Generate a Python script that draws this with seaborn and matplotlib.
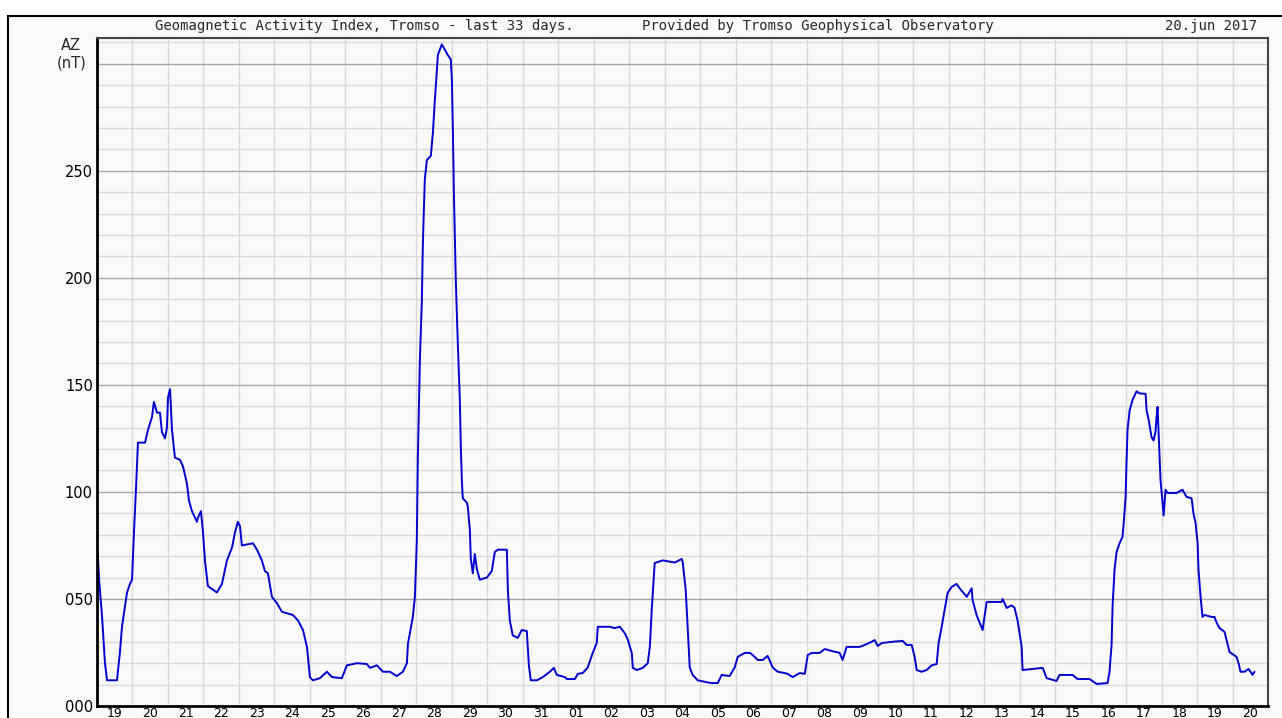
import numpy as np
import pandas as pd
import matplotlib
matplotlib.use('Agg')
import matplotlib.pyplot as plt
from matplotlib.patches import Rectangle
import seaborn as sns

# ---- data -------------------------------------------------------------
day_labels = ['19', '20', '21', '22', '23', '24', '25', '26', '27', '28', '29',
              '30', '31', '01', '02', '03', '04', '05', '06', '07', '08', '09',
              '10', '11', '12', '13', '14', '15', '16', '17', '18', '19', '20']

# hours since 19 May 00:00 UT
hours = [0.5, 1.4, 3.4, 5.4, 6.8, 13.5, 15.5, 16.9, 20.3, 22.3, 23.7, 25.0, 26.4,
         27.7, 32.5, 34.5, 37.2, 38.5, 40.6, 42.6, 43.9, 46.0, 47.3, 48.0, 49.4,
         50.7, 52.1, 52.7, 56.1, 58.1, 60.8, 62.2, 64.2, 67.6, 68.3, 70.3, 71.7,
         73.0, 75.0, 81.1, 84.5, 87.9, 91.3, 93.3, 95.3, 96.7, 98.0, 105.5, 108.2,
         111.5, 113.6, 115.6, 118.3, 121.7, 125.1, 132.5, 135.9, 139.3, 142.0,
         144.0, 146.0, 150.8, 155.5, 158.9, 165.6, 169.0, 175.8, 182.5, 184.6,
         189.3, 193.4, 198.1, 202.8, 206.9, 209.6, 210.3, 211.6, 213.6, 215.0,
         216.3, 217.0, 218.4, 219.7, 220.4, 221.7, 223.1, 225.8, 227.2, 228.5,
         229.9, 230.5, 233.2, 235.3, 237.3, 239.3, 240.0, 240.7, 241.4, 242.7,
         244.1, 245.4, 246.1, 246.8, 247.4, 250.1, 250.8, 252.2, 252.8, 254.2,
         255.5, 256.9, 258.9, 263.7, 267.0, 269.1, 271.1, 277.2, 277.9, 279.2,
         281.2, 284.6, 287.3, 290.7, 292.1, 293.4, 297.5, 301.5, 306.3, 309.0,
         311.0, 316.4, 317.8, 323.2, 325.2, 328.6, 331.9, 335.3, 338.0, 338.7,
         346.8, 350.2, 353.6, 357.0, 359.0, 361.7, 362.4, 365.1, 369.1, 372.5,
         373.9, 375.2, 376.6, 377.2, 382.7, 390.8, 395.5, 396.2, 398.2, 399.6,
         400.9, 402.9, 406.3, 413.1, 415.8, 419.8, 422.5, 427.9, 431.3, 433.4,
         438.1, 441.5, 443.5, 446.9, 450.3, 453.6, 457.0, 460.4, 465.1, 467.2,
         470.5, 475.3, 478.7, 480.7, 483.4, 488.8, 492.2, 496.9, 502.3, 504.3,
         507.0, 515.8, 519.2, 523.9, 526.0, 528.0, 530.7, 538.1, 544.9, 547.6,
         551.0, 553.0, 554.4, 557.7, 561.1, 564.5, 567.9, 569.2, 571.3, 573.3,
         575.3, 578.0, 581.4, 583.4, 586.1, 588.2, 591.6, 592.2, 594.9, 596.3,
         599.0, 601.7, 611.8, 612.5, 615.2, 618.6, 620.6, 622.6, 625.4, 626.0,
         639.6, 642.3, 649.0, 651.0, 659.8, 663.2, 671.3, 676.1, 683.5, 684.8,
         686.2, 686.9, 688.2, 689.6, 691.6, 693.6, 694.3, 695.7, 696.3, 697.0,
         698.4, 700.4, 703.1, 705.1, 709.2, 709.9, 711.2, 713.2, 714.6, 715.9,
         716.6, 717.3, 718.0, 719.3, 720.7, 721.4, 722.7, 724.1, 730.1, 734.2,
         736.9, 740.3, 741.6, 743.0, 744.4, 745.0, 746.4, 747.7, 749.1, 753.8,
         755.8, 757.2, 759.2, 762.6, 764.0, 766.0, 770.7, 772.1, 773.4, 776.1,
         778.8, 780.8, 781.5, 782.9]

az_nT = [71.5, 59, 42, 20, 12, 12, 25, 37, 53, 57, 59, 81, 102,
         123, 123, 129, 135, 142, 137, 137, 128, 125, 130, 144, 148,
         129, 120, 116, 115, 112, 104, 96, 91, 86, 88, 91, 81,
         68, 56, 53, 57, 68, 74, 81, 86, 84, 75, 76, 73,
         68, 63, 62, 51, 48, 44, 42.5, 40, 35.5, 27.6,
         13.5, 12, 13, 16, 13.5, 13, 19, 20, 19.6, 17.8,
         19, 16, 16, 14, 16, 20, 29, 34, 41.6, 51,
         77, 116, 162, 189, 216, 246, 255, 257, 268, 283,
         297, 304, 309, 306.5, 304, 302, 293, 269, 239, 198,
         168, 143, 120, 105, 97, 95, 93, 82, 69, 62,
         71, 64, 59, 60, 63, 72, 73, 73, 54, 40,
         33, 31.8, 35.5, 35, 19, 12, 12, 13.5, 16, 17.8,
         14.5, 13.5, 12.6, 12.6, 15, 15.4, 18, 24.8, 29.4, 37,
         37, 36.4, 37, 34, 31, 24.8, 17.8, 16.8, 17.8, 20,
         27.6, 45, 60, 66.8, 68, 67, 68.7, 66.8, 54, 35.5,
         18, 14.5, 12, 11, 10.7, 10.7, 14.5, 14, 18, 23,
         24.8, 24.8, 23.8, 21.5, 21.5, 23.4, 18, 16, 15.4, 15,
         13.5, 15.4, 15, 23.8, 24.8, 24.8, 26.6, 25.7, 24.8, 21.5,
         27.6, 27.6, 28.5, 30, 30.8, 28, 29.4, 30, 30.4, 28.5,
         28.5, 23, 16.8, 16, 16.8, 19, 19.6, 29.4, 37, 45,
         52.8, 55.6, 57, 55, 52.8, 51, 55, 49.5, 42.5, 40,
         35.5, 48.6, 48.6, 50, 45.8, 47, 45.8, 40, 27.6, 16.8,
         17.8, 13, 11.7, 14.5, 14.5, 12.6, 12.6, 10.3, 10.7, 16,
         28.5, 47, 63.5, 72, 76, 79, 84.6, 97.7, 113.5, 129,
         138, 143, 147, 146, 145.8, 138, 134, 125.7, 124, 128,
         134.6, 139.7, 128, 105.6, 95, 89, 101, 99.5, 99.5, 101,
         97.7, 97, 90, 85.5, 76, 63.5, 51, 41.6, 42.5, 41.6,
         41.6, 39, 36.4, 34.6, 30.8, 25.2, 23, 20, 16, 16,
         17.3, 15.4, 14.5, 16]

y_tick_values = [0, 50, 100, 150, 200, 250, 300]
y_tick_labels = ['000', '050', '100', '150', '200', '250', '']

title_left = 'Geomagnetic Activity Index, Tromso - last 33 days.'
title_mid = 'Provided by Tromso Geophysical Observatory'
title_right = '20.jun 2017'

# ---- figure -----------------------------------------------------------
sns.set_style('white')
plt.rcParams['font.family'] = ['DejaVu Sans']
MONO = ['DejaVu Sans Mono']

W, H = 1282, 718
fig = plt.figure(figsize=(W / 100, H / 100), dpi=100)
fig.patch.set_facecolor('white')

# outer frame (top and left edges visible)
fig.patches.append(Rectangle((8 / W, -0.05), 1.1, (H - 16) / H + 0.05,
                             transform=fig.transFigure, facecolor='#f9f9f9',
                             edgecolor='black', linewidth=1.5, zorder=-10))

ax = fig.add_axes([97 / W, (H - 706) / H, (1268 - 97) / W, (706 - 38) / H])
ax.set_facecolor('#f9f9f9')

df = pd.DataFrame({'day': np.array(hours) / 24.0, 'AZ': az_nT})
sns.lineplot(data=df, x='day', y='AZ', ax=ax, color='#0000d0',
             linewidth=1.4, estimator=None, sort=False, zorder=5)

ax.set_xlim(0, 33)
ax.set_ylim(0, 312)

ax.set_xticks(np.arange(33) + 0.5)
ax.set_xticklabels(day_labels)
ax.set_xticks(np.arange(1, 33), minor=True)

ax.set_yticks(y_tick_values)
ax.set_yticklabels(y_tick_labels)
ax.set_yticks([v for v in range(10, 312, 10) if v % 50], minor=True)

ax.grid(which='minor', axis='both', color='#d9d9d9', linewidth=1.0)
ax.grid(which='major', axis='y', color='#a6a6a6', linewidth=1.0)
ax.grid(which='major', axis='x', visible=False)
ax.set_axisbelow(True)

ax.tick_params(which='both', length=0)
ax.tick_params(axis='x', pad=1, labelsize=9, colors='black')
ax.tick_params(axis='y', pad=3, labelsize=10.5, colors='black')
ax.set_xlabel('')
ax.set_ylabel('')

for side in ['left', 'bottom']:
    ax.spines[side].set_color('black')
    ax.spines[side].set_linewidth(2.0)
for side in ['top', 'right']:
    ax.spines[side].set_color('#444444')
    ax.spines[side].set_linewidth(1.5)
for s in ax.spines.values():
    s.set_visible(True)
    s.set_zorder(6)

ty = 1 - 26 / H
fig.text(155 / W, ty, title_left, ha='left', va='center', fontsize=10,
         family=MONO)
fig.text(642 / W, ty, title_mid, ha='left', va='center', fontsize=10,
         family=MONO)
fig.text(1257 / W, ty, title_right, ha='right', va='center', fontsize=10,
         family=MONO)

fig.text(71 / W, 1 - 46 / H, 'AZ', ha='center', va='center', fontsize=10.5)
fig.text(72 / W, 1 - 63 / H, '(nT)', ha='center', va='center', fontsize=10.5)

fig.savefig('out.png', dpi=100, facecolor=fig.get_facecolor())
